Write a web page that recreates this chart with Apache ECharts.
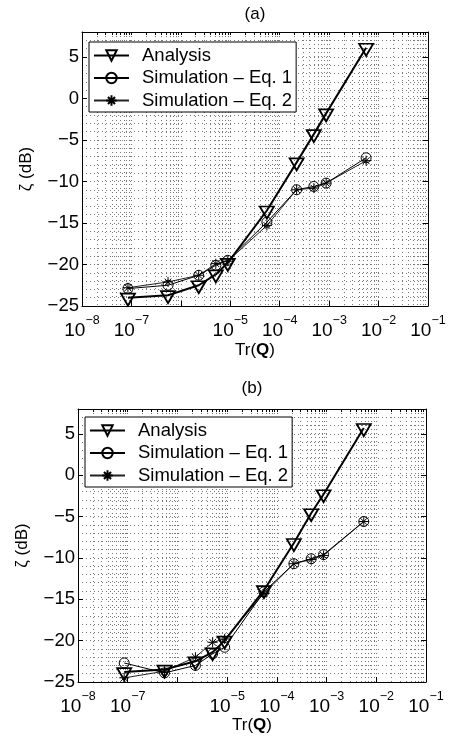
<!DOCTYPE html>
<html><head><meta charset="utf-8">
<script src="https://cdn.jsdelivr.net/npm/echarts@6/dist/echarts.min.js"></script>
<style>html,body{margin:0;padding:0;background:#fff}#c{width:450px;height:736px}</style>
</head><body><div id="c"></div>
<script>
// ---- data ----
const trQ = [8.5e-8, 5.5e-7, 2.3e-6, 5.1e-6, 8.9e-6, 5.5e-5, 2.2e-4, 4.9e-4, 8.7e-4, 5.6e-3];
const analysisA = [-24.0, -23.7, -22.5, -21.2, -19.8, -13.5, -7.7, -4.3, -1.8, 6.1];
const eq1A      = [-22.9, -22.5, -21.3, -20.1, -19.5, -14.9, -11.0, -10.6, -10.2, -7.15];
const eq2A      = [-22.8, -22.1, -21.3, -19.9, -19.6, -15.3, -11.0, -10.8, -10.2, -7.5];
const analysisB = [-23.8, -23.5, -22.5, -21.4, -20.0, -13.9, -8.2, -4.6, -2.3, 5.7];
const eq1B      = [-22.7, -23.9, -23.0, -21.6, -20.8, -14.1, -10.7, -10.1, -9.6, -5.6];
const eq2B      = [-24.5, -23.7, -22.0, -20.2, -19.8, -14.3, -10.7, -10.2, -9.7, -5.6];
const seriesNames = ['Analysis', 'Simulation \u2013 Eq. 1', 'Simulation \u2013 Eq. 2'];
const panelTitles = ['(a)', '(b)'];
const xTickExps  = [-8, -7, -6, -5, -4, -3, -2, -1];
const xTickTexts = ['\u22128', '\u22127', '', '\u22125', '\u22124', '\u22123', '\u22122', '\u22121'];
const yTicks = [-25, -20, -15, -10, -5, 0, 5];
const yName = '\u03B6 (dB)';

// ---- helpers ----
const FONT = 'Liberation Sans, Arial, sans-serif';
const FS = 17;      // titles, axis names
const FT = 18.5;    // tick labels, legend
const xMajor = xTickExps.map(e => Math.pow(10, e));
const xAll = [];
for (let e = -8; e < -1; e++) for (let m = 1; m <= 9; m++) xAll.push(+(m * Math.pow(10, e)).toPrecision(3));
xAll.push(0.1);
const gridDot = {color: '#777', width: 1, type: [1, 3]};
const pairs = (xs, ys) => xs.map((x, i) => [x, ys[i]]);
const ASTER = 'path://M5,0L5,10M0,5L10,5M1.6,1.6L8.4,8.4M1.6,8.4L8.4,1.6';

const grids = [
  {left: 82, right: 22, top: 32, height: 274},
  {left: 78, right: 24, top: 409, height: 273}
];
const xAxes = [], yAxes = [], series = [], legends = [], titles = [], graphics = [];
const legendPos = [{left: 89, top: 42}, {left: 85, top: 417}];
const titleTop = [6, 380];
const yNameOffset = 56;
const dataSets = [[analysisA, eq1A, eq2A], [analysisB, eq1B, eq2B]];

grids.forEach((g, gi) => {
  g.outerBoundsMode = 'none';
  xAxes.push({
    type: 'log', logBase: 10, min: 1e-8, max: 1e-1, gridIndex: gi, position: 'bottom',
    axisLine: {show: true, onZero: false, lineStyle: {color: '#000', width: 1}},
    axisTick: {show: true, inside: true, length: 5, customValues: xMajor, lineStyle: {color: '#000'}},
    axisLabel: {
      show: true, margin: 8, customValues: xMajor, color: '#000', hideOverlap: false,
      formatter: v => {
        const e = Math.round(Math.log10(v));
        const t = xTickTexts[xTickExps.indexOf(e)];
        return t ? '{b|10}{s|' + t + '}' : '';
      },
      rich: {
        b: {fontSize: 19, fontFamily: FONT, color: '#000', lineHeight: 26, verticalAlign: 'bottom'},
        s: {fontSize: 12.5, fontFamily: FONT, color: '#000', lineHeight: 10, verticalAlign: 'top'}
      }
    },
    splitLine: {show: false},
    name: 'Tr({q|Q})', nameLocation: 'middle', nameGap: gi === 0 ? 36 : 33,
    nameTextStyle: {fontSize: FS, fontFamily: FONT, color: '#000',
      rich: {q: {fontSize: FS, fontFamily: FONT, fontWeight: 'bold', color: '#000'}}}
  });
  xAxes.push({
    type: 'log', logBase: 10, min: 1e-8, max: 1e-1, gridIndex: gi, position: 'top',
    axisLine: {show: true, onZero: false, lineStyle: {color: '#000', width: 1}},
    axisTick: {show: true, inside: true, length: 3, customValues: xAll, lineStyle: {color: '#000'}},
    axisLabel: {show: false},
    splitLine: {show: true, lineStyle: gridDot}
  });
  yAxes.push({
    type: 'value', min: -25, max: 8, interval: 5, gridIndex: gi, position: 'left',
    axisLine: {show: true, onZero: false, lineStyle: {color: '#000', width: 1}},
    axisTick: {show: true, inside: true, length: 5, lineStyle: {color: '#000'}},
    minorTick: {show: false, splitNumber: 5},
    minorSplitLine: {show: true, lineStyle: gridDot},
    splitLine: {show: true, lineStyle: gridDot},
    axisLabel: {
      margin: 3, color: '#000', fontSize: FT, fontFamily: FONT, showMaxLabel: false,
      formatter: v => yTicks.includes(v) ? (v < 0 ? '\u2212' + (-v) : String(v)) : ''
    }
  });
  yAxes.push({
    type: 'value', min: -25, max: 8, interval: 5, gridIndex: gi, position: 'right',
    axisLine: {show: true, onZero: false, lineStyle: {color: '#000', width: 1}},
    axisTick: {show: true, inside: true, length: 5, lineStyle: {color: '#000'}},
    axisLabel: {show: false}, splitLine: {show: false}
  });
  graphics.push({
    type: 'text', x: g.left - yNameOffset, y: g.top + g.height / 2, rotation: Math.PI / 2,
    style: {text: yName, fontSize: FS, fontFamily: FONT, fill: '#000',
      textAlign: 'center', textVerticalAlign: 'middle'}
  });
  const [an, e1, e2] = dataSets[gi];
  const common = {type: 'line', xAxisIndex: gi * 2, yAxisIndex: gi * 2, animation: false,
    emphasis: {disabled: true}, symbolKeepAspect: true};
  series.push(Object.assign({}, common, {
    name: seriesNames[2], data: pairs(trQ, e2), symbol: ASTER, symbolSize: 10,
    lineStyle: {color: '#222', width: 1},
    itemStyle: {color: 'rgba(0,0,0,0)', borderColor: '#000', borderWidth: 1}
  }));
  series.push(Object.assign({}, common, {
    name: seriesNames[1], data: pairs(trQ, e1), symbol: 'circle', symbolSize: 10,
    lineStyle: {color: '#000', width: 1},
    itemStyle: {color: 'rgba(0,0,0,0)', borderColor: '#000', borderWidth: 1}
  }));
  series.push(Object.assign({}, common, {
    name: seriesNames[0], data: pairs(trQ, an), symbol: 'triangle', symbolRotate: 180,
    symbolSize: [14, 12], symbolOffset: [0, 2],
    lineStyle: {color: '#000', width: 2},
    itemStyle: {color: 'rgba(0,0,0,0)', borderColor: '#000', borderWidth: 1.8}
  }));
  legends.push({
    data: seriesNames, orient: 'vertical', left: legendPos[gi].left, top: legendPos[gi].top,
    itemWidth: 35, itemHeight: 13, itemGap: 3.5, padding: [4, 4, 2, 4],
    backgroundColor: '#fff', borderColor: '#000', borderWidth: 1, borderRadius: 0,
    selectedMode: false, z: 10,
    textStyle: {fontSize: FT, fontFamily: FONT, color: '#000', padding: [0, 0, 0, 8]}
  });
  titles.push({
    text: panelTitles[gi], left: g.left + (450 - g.left - g.right) / 2, textAlign: 'center',
    top: titleTop[gi], padding: 0,
    textStyle: {fontSize: FS, fontFamily: FONT, fontWeight: 'normal', color: '#000'}
  });
});

const chart = echarts.init(document.getElementById('c'), null, {renderer: 'canvas'});
chart.setOption({
  backgroundColor: '#fff', animation: false,
  title: titles, legend: legends, grid: grids, xAxis: xAxes, yAxis: yAxes, series: series,
  graphic: graphics
});
</script></body></html>
